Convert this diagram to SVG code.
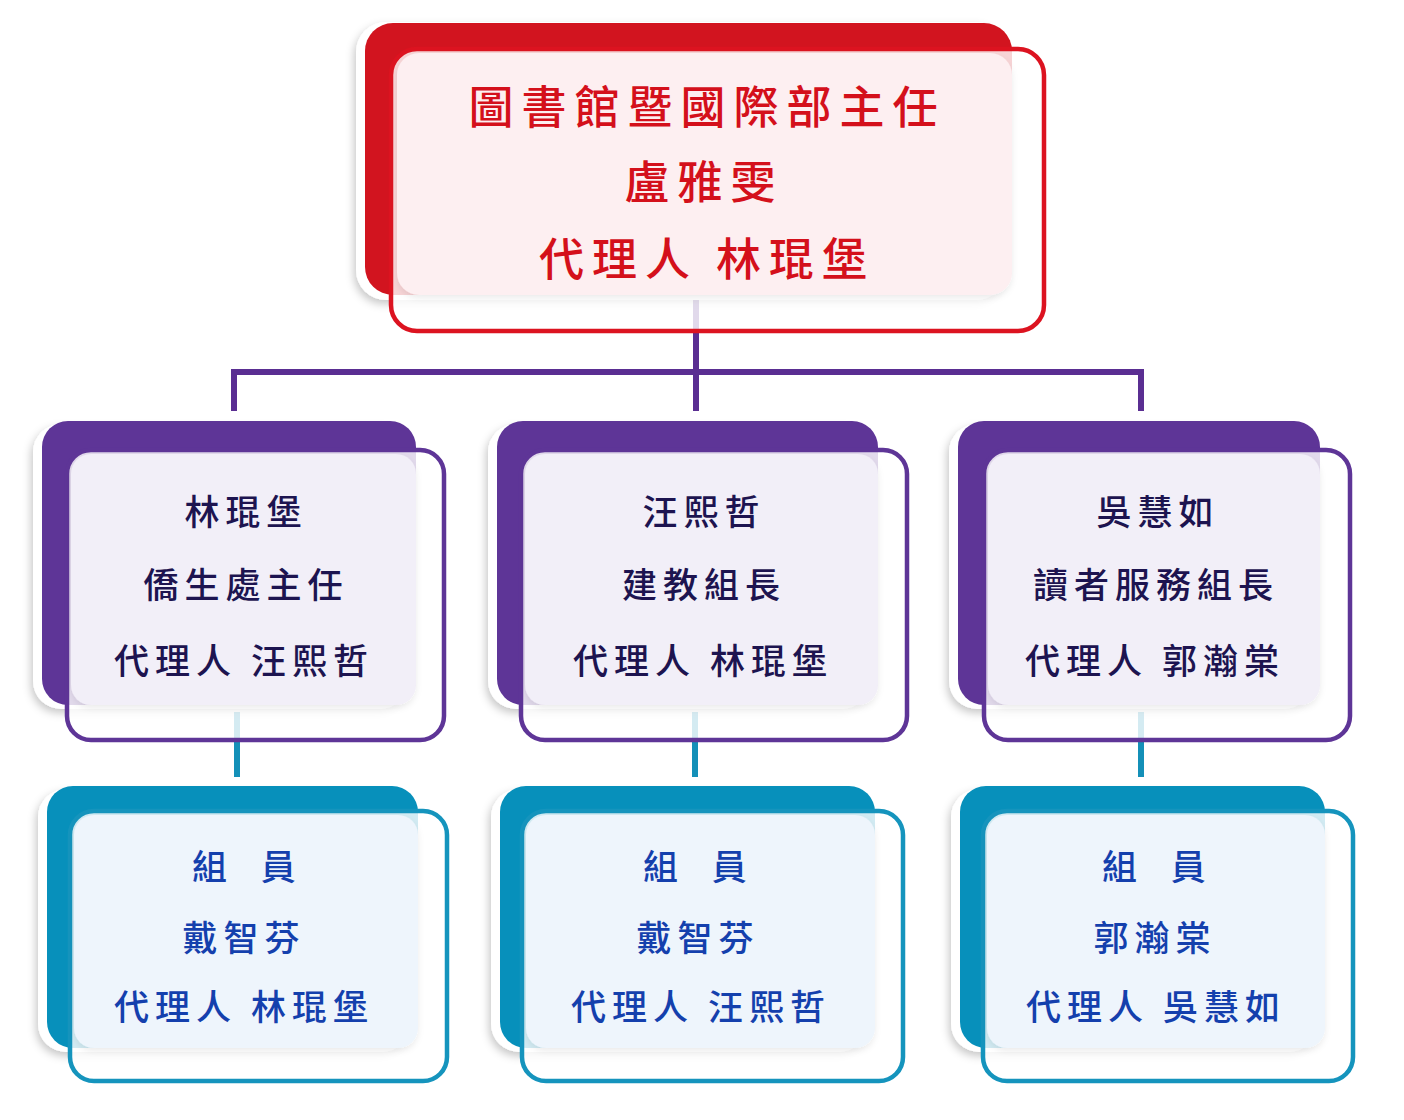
<svg xmlns="http://www.w3.org/2000/svg" width="1404" height="1120" viewBox="0 0 1404 1120">
<defs>
<filter id="sh" x="-10%" y="-10%" width="120%" height="130%">
<feDropShadow dx="-2" dy="4" stdDeviation="4" flood-color="#000" flood-opacity="0.22"/>
</filter>
<filter id="psh" x="-5%" y="-5%" width="110%" height="115%">
<feDropShadow dx="0" dy="3" stdDeviation="3" flood-color="#000" flood-opacity="0.08"/>
</filter>
</defs>
<style>
.shw{fill:#ffffff;filter:url(#sh)}
.red{fill:#d2141f}
.pur{fill:#5e3597}
.tea{fill:#0790bb}
.ol{fill:#ffffff;fill-opacity:0.82;stroke-width:4.5}
.olr{stroke:#dc1320}
.olp{stroke:#5e3597}
.olt{stroke:#1594bd}
.pr{fill:#fdeff1;filter:url(#psh)}
.pp{fill:#f2eff8;filter:url(#psh)}
.pt{fill:#eef5fc;filter:url(#psh)}
text{font-family:"Noto Sans CJK TC","Noto Sans CJK SC",sans-serif;text-anchor:middle;font-weight:500}
.t1{font-size:45px;letter-spacing:8px;fill:#d4101b}
.t2{font-size:35px;letter-spacing:6px;fill:#1d1450}
.t3{font-size:35px;letter-spacing:6px;fill:#1440ad}
.cp{stroke:#5a2e92;stroke-width:6;fill:none}
.ct{stroke:#1490b8;stroke-width:6;fill:none}
</style>
<rect width="1404" height="1120" fill="#ffffff"/>
<g id="connectors">
<path class="cp" d="M696 300 V372 M234 411 V372 H1141 V411 M696 372 V411"/>
<path class="ct" d="M237 712 V777 M695 712 V777 M1141 712 V777"/>
</g>
<g id="n-top">
<rect class="shw" x="356" y="22" width="650" height="278" rx="30"/>
<rect class="red" x="365" y="23" width="647" height="272" rx="28"/>
<rect class="ol olr" x="391" y="49" width="653" height="282" rx="26"/>
<rect class="pr" x="397" y="53" width="615" height="242" rx="22"/>
<text class="t1" x="707" y="124">圖書館暨國際部主任</text>
<text class="t1" x="704" y="199">盧雅雯</text>
<text class="t1" x="707" y="276">代理人 林琨堡</text>
</g>
<g id="n-mid-left">
<rect class="shw" x="33" y="424" width="375" height="285" rx="28"/>
<rect class="pur" x="42" y="421" width="374" height="284" rx="26"/>
<rect class="ol olp" x="67" y="450" width="377" height="290" rx="24"/>
<rect class="pp" x="71" y="454" width="345" height="251" rx="20"/>
<text class="t2" x="246" y="525">林琨堡</text>
<text class="t2" x="246" y="598">僑生處主任</text>
<text class="t2" x="244" y="674">代理人 汪熙哲</text>
</g>
<g id="n-mid-center">
<rect class="shw" x="488" y="424" width="382" height="285" rx="28"/>
<rect class="pur" x="497" y="421" width="381" height="284" rx="26"/>
<rect class="ol olp" x="521" y="450" width="386" height="290" rx="24"/>
<rect class="pp" x="525" y="454" width="353" height="251" rx="20"/>
<text class="t2" x="704" y="525">汪熙哲</text>
<text class="t2" x="704" y="598">建教組長</text>
<text class="t2" x="703" y="674">代理人 林琨堡</text>
</g>
<g id="n-mid-right">
<rect class="shw" x="949" y="424" width="363" height="285" rx="28"/>
<rect class="pur" x="958" y="421" width="362" height="284" rx="26"/>
<rect class="ol olp" x="984" y="450" width="366" height="290" rx="24"/>
<rect class="pp" x="988" y="454" width="332" height="251" rx="20"/>
<text class="t2" x="1158" y="525">吳慧如</text>
<text class="t2" x="1156" y="598">讀者服務組長</text>
<text class="t2" x="1155" y="674">代理人 郭瀚棠</text>
</g>
<g id="n-bot-left">
<rect class="shw" x="38" y="789" width="372" height="263" rx="28"/>
<rect class="tea" x="47" y="786" width="371" height="262" rx="26"/>
<rect class="ol olt" x="70" y="811" width="377" height="270" rx="24"/>
<rect class="pt" x="74" y="815" width="344" height="233" rx="20"/>
<text class="t3" x="247" y="880" xml:space="preserve">組  員</text>
<text class="t3" x="244" y="951">戴智芬</text>
<text class="t3" x="244" y="1020">代理人 林琨堡</text>
</g>
<g id="n-bot-center">
<rect class="shw" x="491" y="789" width="376" height="263" rx="28"/>
<rect class="tea" x="500" y="786" width="375" height="262" rx="26"/>
<rect class="ol olt" x="522" y="811" width="381" height="270" rx="24"/>
<rect class="pt" x="526" y="815" width="349" height="233" rx="20"/>
<text class="t3" x="698" y="880" xml:space="preserve">組  員</text>
<text class="t3" x="698" y="951">戴智芬</text>
<text class="t3" x="701" y="1020">代理人 汪熙哲</text>
</g>
<g id="n-bot-right">
<rect class="shw" x="951" y="789" width="366" height="263" rx="28"/>
<rect class="tea" x="960" y="786" width="365" height="262" rx="26"/>
<rect class="ol olt" x="983" y="811" width="370" height="270" rx="24"/>
<rect class="pt" x="987" y="815" width="338" height="233" rx="20"/>
<text class="t3" x="1157" y="880" xml:space="preserve">組  員</text>
<text class="t3" x="1155" y="951">郭瀚棠</text>
<text class="t3" x="1156" y="1020">代理人 吳慧如</text>
</g>
</svg>
